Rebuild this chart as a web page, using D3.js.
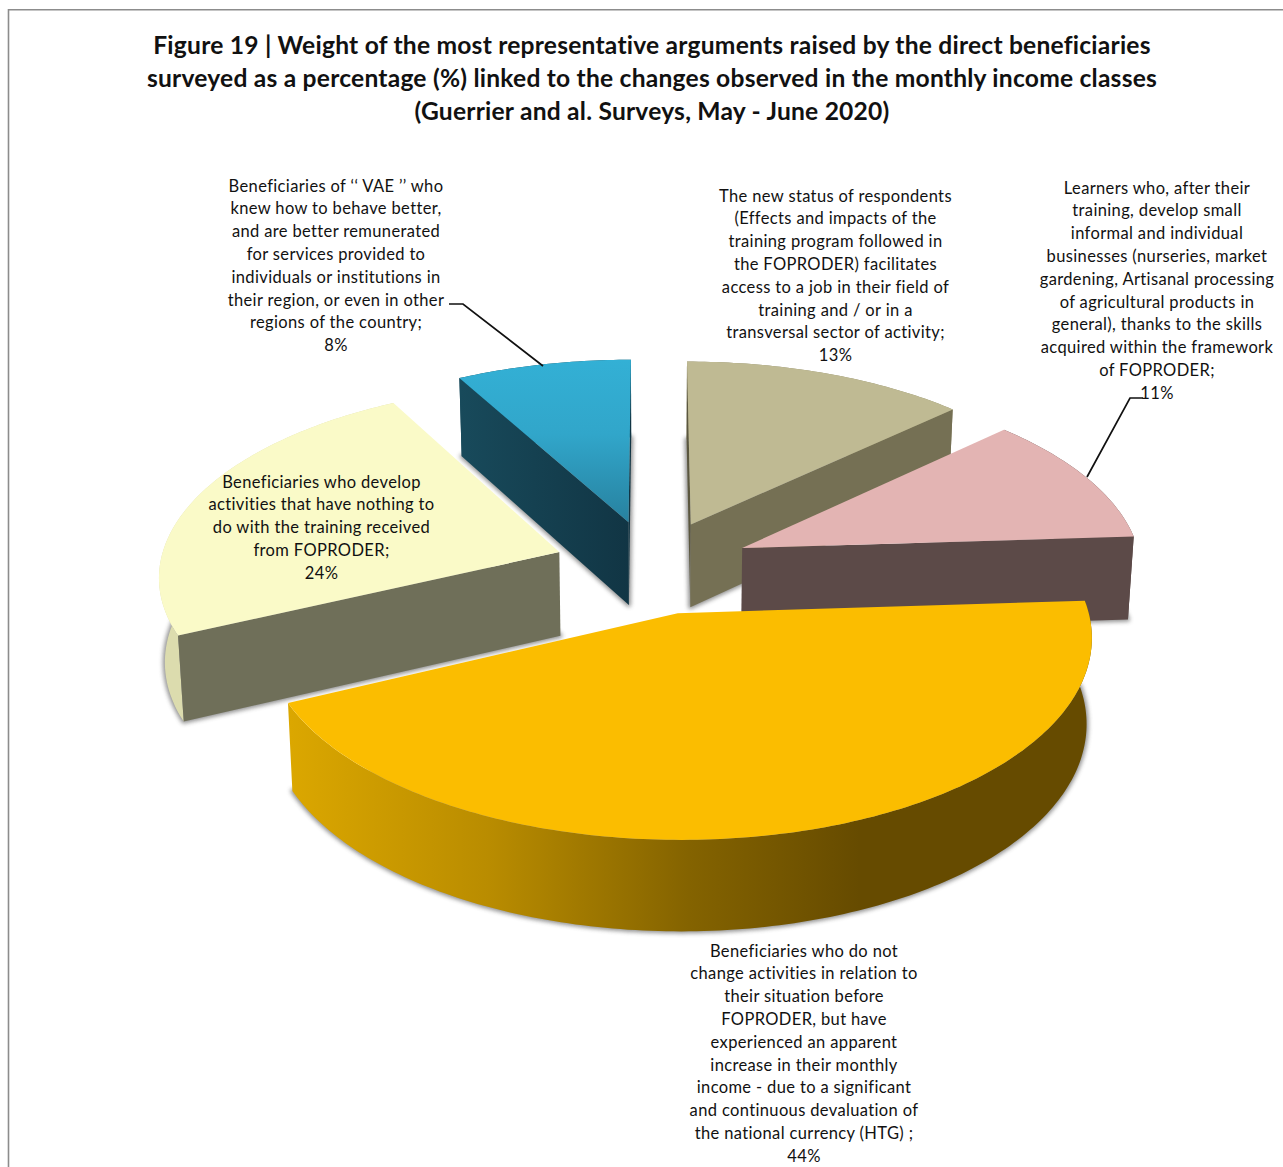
<!DOCTYPE html>
<html>
<head>
<meta charset="utf-8">
<script src="https://cdn.jsdelivr.net/npm/d3@7"></script>
<style>
  html, body { margin: 0; padding: 0; background: #fff; }
  svg { display: block; }
  text { font-family: Lato, "Open Sans", sans-serif; fill: #111; font-variant-ligatures: none; }
</style>
</head>
<body>
<svg id="chart" width="1283" height="1167"></svg>
<script>
// Share of each argument, clockwise from twelve o'clock.
const sliceNames = ["newStatus", "smallBusiness", "noChange", "unrelated", "vae"];
const sliceValues = [13, 11, 44, 24, 8];

const titleLines = [
  "Figure 19 | Weight of the most representative arguments raised by the direct beneficiaries",
  "surveyed as a percentage (%) linked to the changes observed in the monthly income classes",
  "(Guerrier and al. Surveys, May - June 2020)"
];

const labelNewStatus = ["The new status of respondents", "(Effects and impacts of the", "training program followed in", "the FOPRODER) facilitates", "access to a job in their field of", "training and / or in a", "transversal sector of activity;"];
const labelSmallBusiness = ["Learners who, after their", "training, develop small", "informal and individual", "businesses (nurseries, market", "gardening, Artisanal processing", "of agricultural products in", "general), thanks to the skills", "acquired within the framework", "of FOPRODER;"];
const labelNoChange = ["Beneficiaries who do not", "change activities in relation to", "their situation before", "FOPRODER, but have", "experienced an apparent", "increase in their monthly", "income - due to a significant", "and continuous devaluation of", "the national currency (HTG) ;"];
const labelUnrelated = ["Beneficiaries who develop", "activities that have nothing to", "do with the training received", "from FOPRODER;"];
const labelVae = ["Beneficiaries of ‘‘ VAE ’’ who", "knew how to behave better,", "and are better remunerated", "for services provided to", "individuals or institutions in", "their region, or even in other", "regions of the country;"];

const svg = d3.select("#chart");

// Perspective view of the pie's top plane.
const view = { cx: 652.5, cy: 566.5, sx: 400, sy: 190, persp: 0.112, explode: 0.247,
               depth: 84, depthPersp: 0.066, baseShrink: 0.988 };

const sliceStyles = {
  newStatus:     { top: "#bfba93", cut: "#757054", wall: "#8f8b6c", edge: "#5b573f" },
  smallBusiness: { top: "#e3b4b3", cut: "#5c4a48", wall: "#5c4a48", edge: "#5c4a48" },
  noChange:      { top: "#fbbd00", cut: "#6a4e00", wall: "url(#wallAmber)", edge: "#6a4e00" },
  unrelated:     { top: "#fafac8", cut: "#6f6f59", wall: "#dcdcae", edge: "#6f6f59" },
  vae:           { top: "url(#topBlue)", cut: "url(#cutBlue)", wall: "#17495a", edge: "#17495a" }
};
const labelStyles = {
  newStatus:     { lines: labelNewStatus, x: 835.5, y: 195.5 },
  smallBusiness: { lines: labelSmallBusiness, x: 1157, y: 187.5 },
  noChange:      { lines: labelNoChange, x: 804, y: 950.5 },
  unrelated:     { lines: labelUnrelated, x: 321.5, y: 481.5 },
  vae:           { lines: labelVae, x: 336, y: 185.5 }
};

const defs = svg.append("defs");
function gradient(id, x1, y1, x2, y2, stops) {
  const g = defs.append("linearGradient").attr("id", id)
    .attr("gradientUnits", "userSpaceOnUse")
    .attr("x1", x1).attr("y1", y1).attr("x2", x2).attr("y2", y2);
  stops.forEach(([o, c]) => g.append("stop").attr("offset", o).attr("stop-color", c));
}
gradient("wallAmber", 290, 0, 860, 0, [[0, "#dba700"], [0.35, "#b98c00"], [0.7, "#846300"], [1, "#664b00"]]);
gradient("topBlue", 0, 360, 0, 525, [[0, "#33b0d5"], [0.45, "#31a6ca"], [1, "#27809e"]]);
gradient("cutBlue", 460, 0, 630, 0, [[0, "#184a5b"], [1, "#113544"]]);
defs.append("filter").attr("id", "soft")
  .attr("x", "-10%").attr("y", "-10%").attr("width", "120%").attr("height", "120%")
  .append("feGaussianBlur").attr("stdDeviation", 2);

// Page frame: top and left rules.
svg.append("path").attr("d", "M8.5,1167V9.8H1283")
  .attr("fill", "none").attr("stroke", "#8c8c8c").attr("stroke-width", 1.6);

// Title
svg.append("g").selectAll("text").data(titleLines).join("text")
  .attr("x", 652)
  .attr("y", (d, i) => 54 + i * 32.8)
  .attr("text-anchor", "middle")
  .attr("font-weight", 700)
  .attr("font-size", 24.6)
  .attr("letter-spacing", 0.22)
  .text(d => d);

// Pie geometry
const pie = d3.pie().sort(null).startAngle(0).endAngle(2 * Math.PI);
const arcs = pie(sliceValues).map((a, i) => ({ ...a, name: sliceNames[i] }));

function topPoint(theta, radius, mid) {
  const X = radius * Math.sin(theta) + view.explode * Math.sin(mid);
  const Z = radius * Math.cos(theta) + view.explode * Math.cos(mid);
  const w = 1 + view.persp * Z;
  return { x: view.cx + view.sx * X / w, y: view.cy - view.sy * Z / w, Z };
}
function basePoint(theta, radius, mid) {
  const p = topPoint(theta, radius, mid);
  return {
    x: view.cx + (p.x - view.cx) * view.baseShrink,
    y: p.y + view.depth / (1 + view.depthPersp * p.Z)
  };
}
const toPath = d3.line().x(d => d.x).y(d => d.y);
const closed = pts => toPath(pts) + "Z";
const cross = (a, b, c) => (b.x - a.x) * (c.y - b.y) - (b.y - a.y) * (c.x - b.x);

function arcAngles(a) {
  const n = Math.max(8, Math.round((a.endAngle - a.startAngle) * 60));
  return d3.range(n + 1).map(i => a.startAngle + (a.endAngle - a.startAngle) * i / n);
}

// Back to front, so nearer slices overlap farther ones.
const drawOrder = ["vae", "newStatus", "unrelated", "smallBusiness", "noChange"];
const pieLayer = svg.append("g");

drawOrder.map(n => arcs.find(a => a.name === n)).forEach(a => {
  const st = sliceStyles[a.name];
  const mid = (a.startAngle + a.endAngle) / 2;
  const g = pieLayer.append("g");
  const angles = arcAngles(a);
  const topArc = angles.map(t => topPoint(t, 1, mid));
  const baseArc = angles.map(t => basePoint(t, 1, mid));
  const apexTop = topPoint(0, 0, mid);
  const apexBase = basePoint(0, 0, mid);

  // Soft shadow cast by the underside of the slice.
  g.append("path").attr("d", closed([apexBase, ...baseArc]))
    .attr("fill", "#4a4a4a").attr("stroke", "#4a4a4a").attr("stroke-width", 4)
    .attr("stroke-linejoin", "round").attr("opacity", 0.6).attr("filter", "url(#soft)");

  // Outer rim
  g.append("path").attr("d", closed([...topArc, ...baseArc.slice().reverse()]))
    .attr("fill", st.wall);

  // Cut faces, kept only when they turn towards the viewer.
  const startT = topArc[0], startB = baseArc[0];
  const endT = topArc[topArc.length - 1], endB = baseArc[baseArc.length - 1];
  if (cross(apexTop, startT, startB) < 0) {
    const thin = Math.abs(startT.x - apexTop.x) < 10;
    g.append("path").attr("d", closed([apexTop, startT, startB, apexBase]))
      .attr("fill", thin ? st.edge : st.cut);
  }
  if (cross(apexTop, endT, endB) > 0) {
    g.append("path").attr("d", closed([apexTop, endT, endB, apexBase]))
      .attr("fill", st.cut);
  }

  // Top face
  g.append("path").attr("d", closed([apexTop, ...topArc])).attr("fill", st.top);
});

// Leader lines
const leaders = [
  [[449, 304], [463, 304], [543, 366]],
  [[1143, 398], [1130, 398], [1087, 477]]
];
svg.append("g").selectAll("path").data(leaders).join("path")
  .attr("d", d3.line())
  .attr("fill", "none").attr("stroke", "#111").attr("stroke-width", 1.7);

// Data labels: wrapped category name followed by the value.
const labelLayer = svg.append("g");
arcs.forEach(a => {
  const l = labelStyles[a.name];
  const lines = [...l.lines, `${a.value}%`];
  labelLayer.append("g").selectAll("text").data(lines).join("text")
    .attr("x", l.x)
    .attr("y", (d, i) => l.y + 6 + i * 22.8)
    .attr("text-anchor", "middle")
    .attr("font-size", 16.5)
    .attr("letter-spacing", 0.36)
    .text(d => d);
});
</script>
</body>
</html>
